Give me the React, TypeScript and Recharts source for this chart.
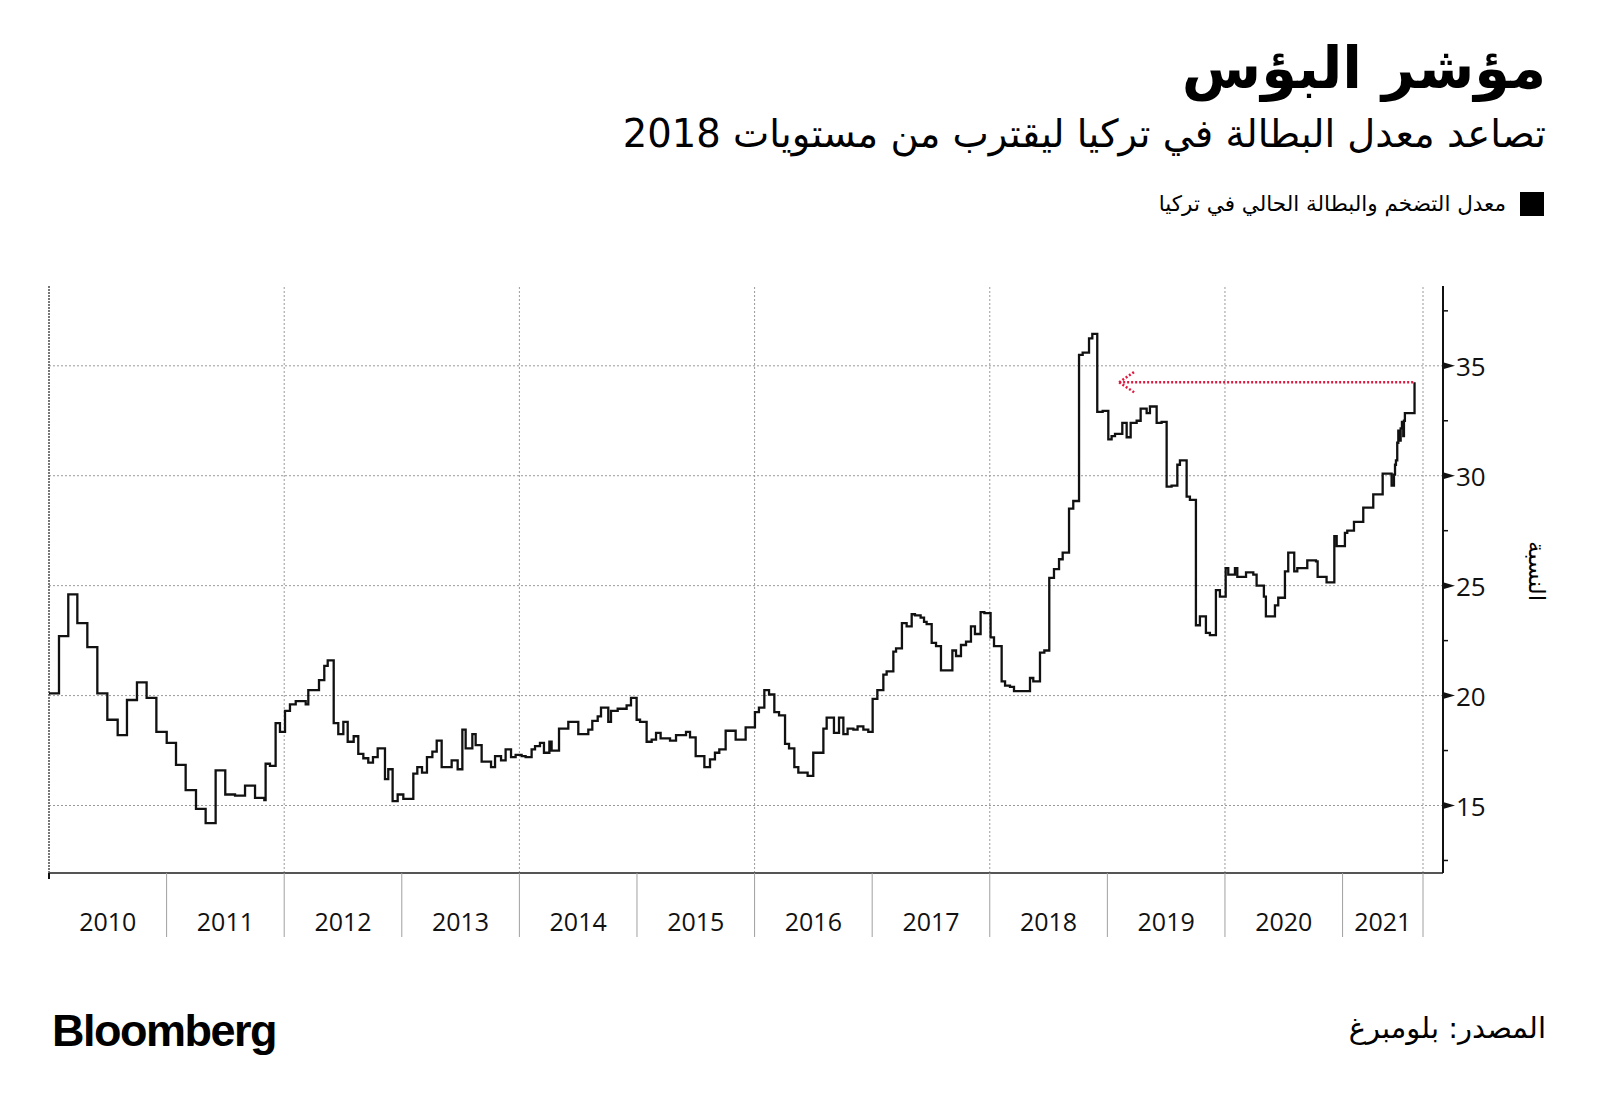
import React from "react";
import { LineChart, Line, XAxis, YAxis, ReferenceLine } from "recharts";

// year boundaries shown on the bottom axis
const years = [2010, 2011, 2012, 2013, 2014, 2015, 2016, 2017, 2018, 2019, 2020, 2021];
const axisEnd = 2021.684;
const gridYears = [2012, 2014, 2016, 2018, 2020];
const majorTicks = [15, 20, 25, 30, 35];
const minorTicks = [12.5, 17.5, 22.5, 27.5, 32.5, 37.5];
const arrowTip = 2019.1;

// misery index (inflation + unemployment), change points as decimal years
const changeDates = [
  2010.0, 2010.085, 2010.164, 2010.241, 2010.326, 2010.411, 2010.496, 2010.584, 2010.663, 2010.748, 2010.83, 2010.913,
  2011.001, 2011.08, 2011.162, 2011.25, 2011.332, 2011.417, 2011.499, 2011.582, 2011.667, 2011.752, 2011.831, 2011.842,
  2011.879, 2011.927, 2011.964, 2012.007, 2012.049, 2012.098, 2012.183, 2012.205, 2012.296, 2012.341, 2012.37, 2012.421,
  2012.46, 2012.503, 2012.54, 2012.591, 2012.63, 2012.673, 2012.715, 2012.755, 2012.795, 2012.857, 2012.885, 2012.922,
  2012.965, 2013.013, 2013.098, 2013.132, 2013.172, 2013.214, 2013.26, 2013.297, 2013.339, 2013.424, 2013.475, 2013.515,
  2013.543, 2013.6, 2013.628, 2013.679, 2013.759, 2013.793, 2013.844, 2013.883, 2013.929, 2013.968, 2014.019, 2014.053,
  2014.104, 2014.133, 2014.175, 2014.209, 2014.255, 2014.274, 2014.337, 2014.416, 2014.501, 2014.586, 2014.62, 2014.666,
  2014.694, 2014.756, 2014.779, 2014.836, 2014.912, 2014.949, 2014.997, 2015.026, 2015.082, 2015.125, 2015.162, 2015.201,
  2015.281, 2015.332, 2015.417, 2015.451, 2015.499, 2015.573, 2015.621, 2015.663, 2015.7, 2015.754, 2015.839, 2015.924,
  2016.003, 2016.037, 2016.083, 2016.123, 2016.168, 2016.208, 2016.259, 2016.293, 2016.338, 2016.372, 2016.451, 2016.499,
  2016.585, 2016.613, 2016.675, 2016.718, 2016.755, 2016.791, 2016.84, 2016.876, 2016.925, 2016.967, 2017.004, 2017.044,
  2017.095, 2017.123, 2017.18, 2017.203, 2017.253, 2017.293, 2017.336, 2017.364, 2017.412, 2017.441, 2017.463, 2017.506,
  2017.543, 2017.585, 2017.682, 2017.713, 2017.755, 2017.798, 2017.84, 2017.874, 2017.922, 2017.954, 2018.007, 2018.036,
  2018.101, 2018.13, 2018.172, 2018.206, 2018.342, 2018.37, 2018.427, 2018.464, 2018.506, 2018.546, 2018.589, 2018.62,
  2018.674, 2018.71, 2018.759, 2018.79, 2018.844, 2018.872, 2018.914, 2018.96, 2019.008, 2019.036, 2019.065, 2019.127,
  2019.164, 2019.198, 2019.249, 2019.283, 2019.334, 2019.362, 2019.419, 2019.461, 2019.504, 2019.546, 2019.595, 2019.617,
  2019.674, 2019.702, 2019.753, 2019.787, 2019.838, 2019.872, 2019.923, 2019.957, 2020.006, 2020.028, 2020.085, 2020.105,
  2020.179, 2020.241, 2020.269, 2020.331, 2020.348, 2020.425, 2020.453, 2020.51, 2020.538, 2020.589, 2020.615, 2020.7,
  2020.774, 2020.788, 2020.864, 2020.93, 2020.95, 2021.02, 2021.04, 2021.097, 2021.176, 2021.261, 2021.341, 2021.417,
  2021.437, 2021.446, 2021.454, 2021.465, 2021.474, 2021.482, 2021.494, 2021.505, 2021.516, 2021.522, 2021.53, 2021.612,
];

const indexValues = [
  20.1, 22.7, 24.6, 23.3, 22.2, 20.1, 18.9, 18.2, 19.8, 20.6, 19.9, 18.35,
  17.85, 16.85, 15.7, 14.85, 14.2, 16.6, 15.5, 15.45, 15.9, 15.35, 15.25, 16.9,
  16.8, 18.75, 18.35, 19.3, 19.6, 19.75, 19.6, 20.25, 20.7, 21.35, 21.6, 18.75,
  18.25, 18.8, 17.9, 18.15, 17.35, 17.15, 16.95, 17.2, 17.6, 16.2, 16.65, 15.2,
  15.5, 15.3, 16.45, 16.75, 16.5, 17.2, 17.45, 17.95, 16.75, 17.05, 16.65, 18.45,
  17.6, 18.25, 17.75, 17.0, 16.75, 17.25, 17.05, 17.55, 17.2, 17.3, 17.25, 17.2,
  17.55, 17.7, 17.85, 17.4, 17.9, 17.5, 18.5, 18.8, 18.25, 18.45, 18.85, 19.05,
  19.45, 18.8, 19.3, 19.4, 19.55, 19.9, 18.9, 18.8, 17.9, 18.0, 18.3, 18.05,
  17.95, 18.2, 18.35, 18.1, 17.25, 16.75, 17.1, 17.4, 17.55, 18.4, 18.0, 18.55,
  19.25, 19.45, 20.25, 20.05, 19.25, 19.1, 17.8, 17.6, 16.75, 16.5, 16.35, 17.4,
  18.5, 19.0, 18.3, 19.0, 18.25, 18.5, 18.45, 18.6, 18.45, 18.35, 19.85, 20.25,
  20.95, 21.1, 22.0, 22.15, 23.3, 23.15, 23.7, 23.65, 23.55, 23.35, 23.25, 22.4,
  22.25, 21.15, 22.05, 21.8, 22.3, 22.45, 23.15, 22.8, 23.8, 23.75, 22.65, 22.25,
  20.65, 20.45, 20.4, 20.2, 20.8, 20.65, 21.95, 22.05, 25.35, 25.75, 26.2, 26.5,
  28.5, 28.85, 35.5, 35.6, 36.25, 36.45, 32.9, 32.95, 31.65, 31.8, 31.9, 32.4,
  31.75, 32.4, 32.5, 33.05, 32.85, 33.15, 32.4, 32.45, 29.5, 29.55, 30.5, 30.7,
  29.05, 28.9, 23.2, 23.6, 22.85, 22.75, 24.8, 24.5, 25.8, 25.5, 25.8, 25.4,
  25.6, 25.5, 25.0, 24.5, 23.6, 24.1, 24.45, 25.65, 26.5, 25.65, 25.8, 26.15,
  26.1, 25.4, 25.15, 27.25, 26.8, 27.4, 27.5, 27.9, 28.55, 29.15, 30.1, 29.55,
  30.05, 30.5, 30.7, 31.5, 32.05, 31.6, 32.15, 32.45, 31.8, 32.5, 32.85, 34.25,
];

const data = changeDates.map((t, i) => ({ t, v: indexValues[i] }));
const lastDate = changeDates[changeDates.length - 1];
const lastValue = indexValues[indexValues.length - 1];

const xTicks = years
  .flatMap((y) => [y, (y + Math.min(y + 1, axisEnd)) / 2])
  .concat(axisEnd);
const yTicks = [...minorTicks, ...majorTicks].sort((a, b) => a - b);

const arabic = "'DejaVu Sans', sans-serif";
const latin = "'Open Sans', 'DejaVu Sans', sans-serif";
const gridColor = "#9a9a9a";
const red = "#e3173e";

function YearTick(props: any) {
  const { x, y, payload } = props;
  const v = payload.value;
  if (v === years[0]) {
    return <line x1={x} y1={y} x2={x} y2={y + 6} stroke="#111" strokeWidth={2} />;
  }
  if (years.includes(v) || v === axisEnd) {
    return <line x1={x} y1={y} x2={x} y2={y + 64} stroke="#a0a0a0" strokeWidth={1} />;
  }
  return (
    <text x={x} y={y + 48} textAnchor="middle" dominantBaseline="central" fontSize={25} fill="#111" fontFamily={latin}>
      {Math.floor(v)}
    </text>
  );
}

function ValueTick(props: any) {
  const { x, y, payload } = props;
  const v = payload.value;
  if (majorTicks.includes(v)) {
    return (
      <g>
        <polygon points={`${x},${y - 3.5} ${x + 12},${y} ${x},${y + 3.5}`} fill="#111" />
        <text x={x + 13} y={y} textAnchor="start" dominantBaseline="central" fontSize={26} fill="#111" fontFamily={latin}>
          {v}
        </text>
      </g>
    );
  }
  return <line x1={x} y1={y} x2={x + 5} y2={y} stroke="#111" strokeWidth={1.5} />;
}

function ArrowShape(props: any) {
  const { x1, y1, x2 } = props;
  const tip = Math.min(x1, x2);
  const end = Math.max(x1, x2);
  const dash = { stroke: red, strokeWidth: 2.5, strokeDasharray: "2 2", fill: "none" };
  return (
    <g>
      <line x1={tip} y1={y1} x2={end} y2={y1} {...dash} />
      <line x1={tip} y1={y1} x2={tip + 16} y2={y1 - 11} {...dash} />
      <line x1={tip} y1={y1} x2={tip + 15} y2={y1 + 10} {...dash} />
    </g>
  );
}

export default function App() {
  return (
    <div
      style={{
        position: "absolute",
        left: 0,
        top: 0,
        width: 1600,
        height: 1109,
        background: "#fff",
        overflow: "hidden",
      }}
    >
      <LineChart width={1600} height={960} data={data} margin={{ top: 286, right: 97, bottom: 17, left: 49 }}>
        {majorTicks.map((v) => (
          <ReferenceLine key={`h${v}`} y={v} stroke={gridColor} strokeDasharray="2 2" strokeWidth={1} />
        ))}
        {gridYears.map((yr) => (
          <ReferenceLine key={`v${yr}`} x={yr} stroke={gridColor} strokeDasharray="2 2" strokeWidth={1} />
        ))}
        <ReferenceLine x={axisEnd} stroke={gridColor} strokeDasharray="2 2" strokeWidth={1} />
        <ReferenceLine x={years[0]} stroke="#777" strokeDasharray="2 1" strokeWidth={2} />
        <XAxis
          dataKey="t"
          type="number"
          domain={[years[0], axisEnd]}
          ticks={xTicks}
          interval={0}
          padding={{ left: 0, right: 20 }}
          height={70}
          tickSize={0}
          tickMargin={0}
          tickLine={false}
          axisLine={{ stroke: "#555", strokeWidth: 2 }}
          tick={<YearTick />}
          allowDataOverflow
        />
        <YAxis
          orientation="right"
          type="number"
          domain={[11.93, 38.63]}
          ticks={yTicks}
          interval={0}
          width={60}
          tickSize={0}
          tickMargin={0}
          tickLine={false}
          axisLine={{ stroke: "#111", strokeWidth: 2 }}
          tick={<ValueTick />}
          allowDataOverflow
        />
        <Line
          type="stepAfter"
          dataKey="v"
          stroke="#111"
          strokeWidth={2.3}
          dot={false}
          activeDot={false}
          isAnimationActive={false}
        />
        <ReferenceLine
          segment={[
            { x: arrowTip, y: lastValue },
            { x: lastDate, y: lastValue },
          ]}
          shape={<ArrowShape />}
        />
      </LineChart>

      <div
        dir="rtl"
        style={{
          position: "absolute",
          right: 54,
          top: 31,
          fontFamily: arabic,
          fontWeight: 700,
          fontSize: 57.5,
          lineHeight: "76px",
          color: "#000",
          whiteSpace: "nowrap",
        }}
      >
        مؤشر البؤس
      </div>
      <div
        dir="rtl"
        style={{
          position: "absolute",
          right: 54,
          top: 110,
          fontFamily: arabic,
          fontSize: 38.5,
          lineHeight: "48px",
          color: "#000",
          whiteSpace: "nowrap",
        }}
      >
        تصاعد معدل البطالة في تركيا ليقترب من مستويات 2018
      </div>
      <div style={{ position: "absolute", left: 1520, top: 192, width: 24, height: 24, background: "#000" }} />
      <div
        dir="rtl"
        style={{
          position: "absolute",
          right: 94,
          top: 189,
          fontFamily: arabic,
          fontSize: 21.5,
          lineHeight: "30px",
          color: "#000",
          whiteSpace: "nowrap",
        }}
      >
        معدل التضخم والبطالة الحالي في تركيا
      </div>
      <div
        dir="rtl"
        style={{
          position: "absolute",
          left: 1537,
          top: 571,
          transform: "translate(-50%, -50%) rotate(90deg)",
          fontFamily: arabic,
          fontSize: 23,
          lineHeight: "30px",
          color: "#000",
          whiteSpace: "nowrap",
        }}
      >
        النسبة
      </div>
      <div
        style={{
          position: "absolute",
          left: 52,
          top: 1005,
          fontFamily: "'Liberation Sans', Arial, sans-serif",
          fontWeight: 700,
          fontSize: 45,
          lineHeight: "52px",
          letterSpacing: -1.5,
          color: "#000",
        }}
      >
        Bloomberg
      </div>
      <div
        dir="rtl"
        style={{
          position: "absolute",
          right: 54,
          top: 1009,
          fontFamily: arabic,
          fontSize: 29,
          lineHeight: "38px",
          color: "#000",
          whiteSpace: "nowrap",
        }}
      >
        المصدر: بلومبرغ
      </div>
    </div>
  );
}
